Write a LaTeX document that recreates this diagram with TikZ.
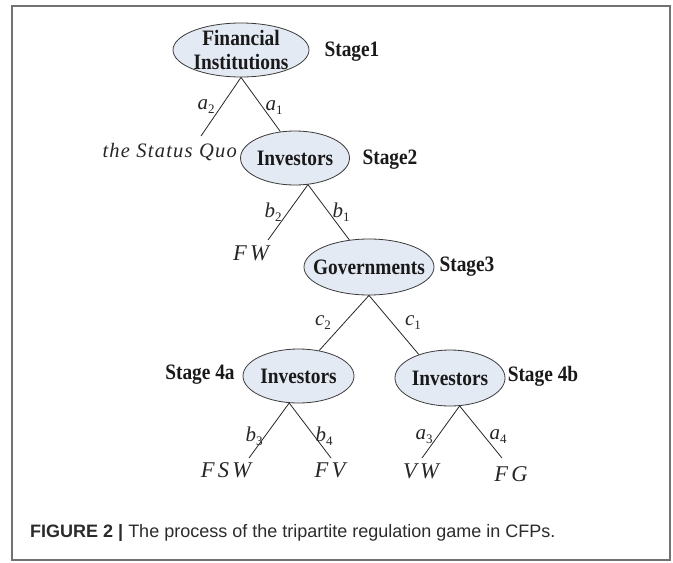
\documentclass[tikz,border=0pt]{standalone}
\usepackage{fontspec}
\setmainfont{Liberation Serif}
\newfontfamily\nodefont[FakeStretch=0.88]{Liberation Serif}
\newfontfamily\outfont[LetterSpace=14]{Liberation Serif}
\newfontfamily\sqfont[LetterSpace=6]{Liberation Serif}
\newfontfamily\capfont{Liberation Sans}
\usetikzlibrary{shapes.geometric}
\definecolor{nodefill}{HTML}{E4EAF4}
\definecolor{nodeline}{HTML}{3A3A3A}
\definecolor{framecol}{HTML}{727272}
\definecolor{captext}{HTML}{2B2B2B}
\newcommand\sublab[2]{{\itshape #1}\raisebox{-4pt}{\fontsize{13}{13}\selectfont #2}}
\tikzset{
  pnode/.style={ellipse, draw=nodeline, fill=nodefill, line width=0.8pt, inner sep=0pt},
  ptext/.style={font=\nodefont\bfseries\fontsize{22}{24}\selectfont, align=center, inner sep=0pt, text=black!90},
  stagelab/.style={font=\nodefont\bfseries\fontsize{22}{24}\selectfont, inner sep=0pt, text=black!90},
  branch/.style={draw=black!85, line width=0.8pt},
  outcome/.style={font=\outfont\itshape\fontsize{22.5}{26}\selectfont, inner sep=0pt, text=black!85, anchor=base},
  sqout/.style={font=\sqfont\itshape\fontsize{20.5}{24}\selectfont, inner sep=0pt, text=black!85},
  blab/.style={font=\fontsize{21}{24}\selectfont, inner sep=0pt, text=black!85},
}
\begin{document}
\begin{tikzpicture}[x=1pt, y=-1pt]
\useasboundingbox (0,0) rectangle (673,563);
\draw[framecol, line width=1.5pt] (12,6) rectangle (670,560);

% player nodes
\node[pnode, minimum width=136pt, minimum height=54pt, label={[ptext]center:Financial\\Institutions}] (fi) at (241,50) {};
\node[pnode, minimum width=109pt, minimum height=54pt, label={[ptext]center:Investors}] (inv2) at (295,158) {};
\node[pnode, minimum width=130pt, minimum height=56pt, label={[ptext]center:Governments}] (gov) at (369,267) {};
\node[pnode, minimum width=111pt, minimum height=54pt, label={[ptext]center:Investors}] (inv4a) at (298.5,376) {};
\node[pnode, minimum width=110pt, minimum height=56pt, label={[ptext]center:Investors}] (inv4b) at (450,378) {};

% stage labels
\node[stagelab] (s1) at (352,52) {Stage1};
\node[stagelab] (s2) at (390,160) {Stage2};
\node[stagelab] (s3) at (467,267) {Stage3};
\node[stagelab] (s4a) at (200,375) {Stage 4a};
\node[stagelab] (s4b) at (543,376) {Stage 4b};

% free branch ends
\coordinate (sqend) at (201,136);
\coordinate (fwend) at (268,240);
\coordinate (fswend) at (249,458);
\coordinate (fvend) at (331,458);
\coordinate (vwend) at (422,458);
\coordinate (fgend) at (502,458);

% branches
\draw[branch] (fi.south) -- (sqend);
\draw[branch] (fi.south) -- (inv2.119);
\draw[branch] (inv2.-64) -- (fwend);
\draw[branch] (inv2.-64) -- (gov.126);
\draw[branch] (gov.south) -- (inv4a.51);
\draw[branch] (gov.south) -- (inv4b.143);
\draw[branch] (inv4a.-109) -- (fswend);
\draw[branch] (inv4a.-109) -- (fvend);
\draw[branch] (inv4b.-71) -- (vwend);
\draw[branch] (inv4b.-71) -- (fgend);

% branch labels
\node[blab] (la2) at (206,107) {\sublab{a}{2}};
\node[blab] (la1) at (274,108) {\sublab{a}{1}};
\node[blab] (lb2) at (273,212) {\sublab{b}{2}};
\node[blab] (lb1) at (341,212) {\sublab{b}{1}};
\node[blab] (lc2) at (323,323) {\sublab{c}{2}};
\node[blab] (lc1) at (413,323) {\sublab{c}{1}};
\node[blab] (lb3) at (254,436) {\sublab{b}{3}};
\node[blab] (lb4) at (324,436) {\sublab{b}{4}};
\node[blab] (la3) at (424,437) {\sublab{a}{3}};
\node[blab] (la4) at (498,437) {\sublab{a}{4}};

% outcomes
\node[sqout, anchor=base east] (sq) at (237,157) {the Status Quo};
\node[outcome] (fw) at (251,260) {FW};
\node[outcome] (fsw) at (226,477) {FSW};
\node[outcome] (fv) at (330,477) {FV};
\node[outcome] (vw) at (421,478) {VW};
\node[outcome] (fg) at (511,481) {FG};

% caption
\node[anchor=west, inner sep=0pt, text=captext, font=\capfont\fontsize{18}{21}\selectfont] (cap) at (30,533) {\textbf{FIGURE 2 |} The process of the tripartite regulation game in CFPs.};
\end{tikzpicture}
\end{document}
